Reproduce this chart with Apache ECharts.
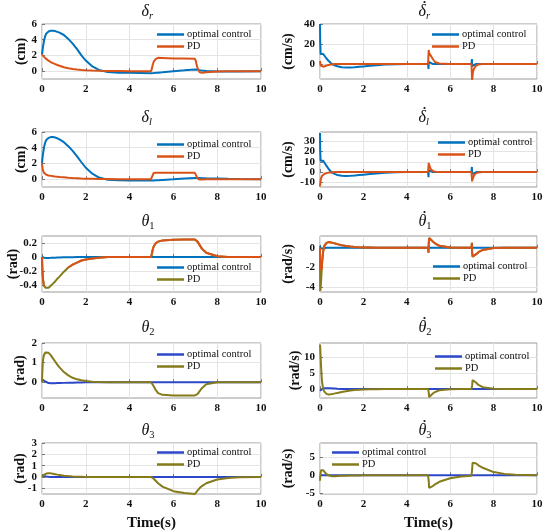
<!DOCTYPE html>
<html><head><meta charset="utf-8">
<script src="https://cdn.jsdelivr.net/npm/echarts@6/dist/echarts.min.js"></script>
<style>html,body{margin:0;padding:0;background:#fff}#c{width:550px;height:532px}</style>
</head><body><div id="c"></div>
<script>
// ---------- DATA ----------
const T = [
  0, 0.01, 0.03, 0.05, 0.08, 0.1, 0.15, 0.2, 0.3, 0.4,
  0.5, 0.6, 0.7, 0.8, 1.0, 1.2, 1.4, 1.6, 1.8, 2.0,
  2.3, 2.6, 3.0, 3.5, 4.0, 4.5, 4.98, 5.0, 5.01, 5.03,
  5.05, 5.1, 5.2, 5.3, 5.5, 6.0, 6.5, 6.98, 7.0, 7.01,
  7.03, 7.05, 7.1, 7.2, 7.3, 7.5, 8.0, 8.5, 9.0, 10
];
const X_TICKS = [0, 2, 4, 6, 8, 10];
const SERIES_NAMES = ['optimal control', 'PD'];

// delta_r (cm)
const dr_opt = [
  2.1, 2.35, 2.8, 3.2, 3.65, 4.0, 4.5, 4.8, 5.05, 5.15,
  5.15, 5.1, 5.0, 4.9, 4.6, 4.1, 3.5, 2.8, 2.0, 1.35,
  0.6, 0.15, -0.1, -0.2, -0.22, -0.25, -0.28, -0.28, -0.28, -0.27,
  -0.27, -0.25, -0.22, -0.2, -0.15, -0.02, 0.1, 0.22, 0.22, 0.22,
  0.21, 0.2, 0.18, 0.12, 0.08, 0.02, -0.05, -0.05, -0.03, 0
];
const dr_pd = [
  2.1, 2.07, 2.01, 1.95, 1.86, 1.8, 1.66, 1.54, 1.33, 1.16,
  1.02, 0.9, 0.78, 0.68, 0.5, 0.37, 0.27, 0.2, 0.15, 0.11,
  0.07, 0.04, 0.02, 0.01, 0, 0, 0, 0, 0.15, 0.45,
  0.75, 1.2, 1.55, 1.7, 1.68, 1.62, 1.6, 1.58, 1.58, 1.5,
  1.25, 0.95, 0.4, -0.15, -0.22, -0.15, -0.05, 0, 0, 0
];
// delta_l (cm)
const dl_opt = [
  2.0, 2.35, 2.85, 3.3, 3.8, 4.15, 4.7, 5.0, 5.25, 5.35,
  5.35, 5.3, 5.2, 5.05, 4.7, 4.2, 3.6, 2.9, 2.15, 1.45,
  0.7, 0.2, -0.08, -0.15, -0.17, -0.17, -0.18, -0.18, -0.18, -0.18,
  -0.18, -0.17, -0.15, -0.14, -0.1, -0.02, 0.07, 0.15, 0.15, 0.15,
  0.15, 0.15, 0.14, 0.13, 0.12, 0.1, 0.07, 0.04, 0.02, 0
];
const dl_pd = [
  2.0, 1.7, 1.3, 1.05, 0.85, 0.75, 0.62, 0.55, 0.47, 0.42,
  0.38, 0.34, 0.31, 0.28, 0.23, 0.18, 0.14, 0.11, 0.08, 0.06,
  0.04, 0.02, 0.01, 0, 0, 0, 0, 0, 0.1, 0.35,
  0.55, 0.78, 0.82, 0.82, 0.82, 0.81, 0.8, 0.8, 0.8, 0.75,
  0.6, 0.4, 0.1, -0.05, -0.05, -0.02, 0, 0, 0, 0
];
// d(delta_r)/dt (cm/s)
const ddr_opt = [
  40, 22, 10, 10.5, 11, 11, 10, 8.5, 5.5, 3,
  1, -0.5, -1.5, -2.3, -3.3, -3.6, -3.5, -3.2, -2.8, -2.4,
  -1.8, -1.2, -0.6, -0.2, 0, 0, 0, -5, 2, 1,
  0.6, 0.3, 0.1, 0, 0, 0, 0, 0, 5, -2,
  -1, -0.5, -0.2, 0, 0, 0, 0, 0, 0, 0
];
const ddr_pd = [
  3, 1, -1.5, -2.5, -3, -3, -2.7, -2.3, -1.5, -0.9,
  -0.5, -0.2, 0, 0.1, 0.1, 0.05, 0, 0, 0, 0,
  0, 0, 0, 0, 0, 0, 0, 0, 14, 11,
  9, 9.5, 5, 2, 0.5, 0, 0, 0, 0, -16,
  -12, -8, -4.5, -1.5, -0.5, 0, 0, 0, 0, 0
];
// d(delta_l)/dt (cm/s)
const ddl_opt = [
  38, 20, 11, 11.5, 12, 12, 11, 9.5, 6, 3,
  0.5, -1, -2, -2.8, -3.6, -3.8, -3.6, -3.3, -2.9, -2.5,
  -1.9, -1.3, -0.7, -0.2, 0, 0, 0, -5, 2, 1,
  0.5, 0.2, 0, 0, 0, 0, 0, 0, 5, -2,
  -1, -0.5, -0.2, 0, 0, 0, 0, 0, 0, 0
];
const ddl_pd = [
  -14, -12, -8, -6, -4.5, -3.5, -2.5, -1.8, -1, -0.5,
  -0.3, -0.1, 0, 0, 0, 0, 0, 0, 0, 0,
  0, 0, 0, 0, 0, 0, 0, 0, 9, 7,
  5.5, 3, 1, 0.3, 0, 0, 0, 0, 0, -9,
  -7, -5.5, -3, -1, -0.3, 0, 0, 0, 0, 0
];
// theta_1 (rad)
const th1_opt = [
  0, 0, -0.003, -0.005, -0.008, -0.01, -0.012, -0.013, -0.013, -0.012,
  -0.01, -0.009, -0.008, -0.007, -0.005, -0.003, -0.002, -0.001, 0, 0,
  0, 0, 0, 0, 0, 0, 0, 0, 0, 0,
  0, 0, 0, 0, 0, 0, 0, 0, 0, 0,
  0, 0, 0, 0, 0, 0, 0, 0, 0, 0
];
const th1_pd = [
  0, -0.1, -0.25, -0.33, -0.4, -0.42, -0.44, -0.45, -0.44, -0.41,
  -0.38, -0.35, -0.31, -0.28, -0.21, -0.15, -0.11, -0.08, -0.05, -0.035,
  -0.02, -0.01, 0, 0, 0, 0, 0, 0, 0.02, 0.06,
  0.1, 0.15, 0.2, 0.22, 0.235, 0.245, 0.25, 0.25, 0.25, 0.25,
  0.245, 0.24, 0.22, 0.17, 0.12, 0.06, 0.01, 0, 0, 0
];
const th1_pd_overlay = [
  0, -0.1, -0.25, -0.33, -0.4, -0.42, null, null, null, null,
  null, null, null, null, null, -0.15, -0.11, -0.08, -0.05, -0.035,
  -0.02, -0.01, 0, 0, 0, 0, 0, 0, 0.02, 0.06,
  0.1, 0.15, 0.2, 0.22, 0.235, 0.245, 0.25, 0.25, 0.25, 0.25,
  0.245, 0.24, 0.22, 0.17, 0.12, 0.06, 0.01, 0, 0, 0
];
// d(theta_1)/dt (rad/s)
const th1d_opt = [
  0.2, 0.1, -0.05, -0.1, -0.12, -0.1, -0.06, -0.03, 0, 0.01,
  0.01, 0.01, 0, 0, 0, 0, 0, 0, 0, 0,
  0, 0, 0, 0, 0, 0, 0, 0, 0, 0,
  0, 0, 0, 0, 0, 0, 0, 0, 0, 0,
  0, 0, 0, 0, 0, 0, 0, 0, 0, 0
];
const th1d_pd = [
  0, -4.4, -4.1, -3.4, -2.2, -1.4, -0.3, 0.2, 0.5, 0.58,
  0.55, 0.5, 0.43, 0.37, 0.26, 0.18, 0.12, 0.08, 0.05, 0.03,
  0.02, 0.01, 0, 0, 0, 0, 0, -0.5, 0.4, 1.0,
  1.1, 0.9, 0.65, 0.45, 0.2, 0.03, 0, 0, 0.5, -0.4,
  -0.9, -1.1, -0.95, -0.65, -0.45, -0.22, -0.03, 0, 0, 0
];
const th1d_pd_overlay = [
  0, -2.3, null, null, -2.2, -1.4, -0.3, 0.2, 0.5, 0.58,
  0.55, 0.5, 0.43, 0.37, 0.26, 0.18, 0.12, 0.08, 0.05, 0.03,
  0.02, 0.01, 0, 0, 0, 0, 0, -0.5, 0.4, 1.0,
  1.1, 0.9, 0.65, 0.45, 0.2, 0.03, 0, 0, 0.5, -0.4,
  -0.9, -1.1, -0.95, -0.65, -0.45, -0.22, -0.03, 0, 0, 0
];
// theta_2 (rad)
const th2_opt = [
  0.15, 0.15, 0.14, 0.12, 0.1, 0.08, 0.04, 0.0, -0.04, -0.05,
  -0.05, -0.05, -0.04, -0.04, -0.03, -0.02, -0.02, -0.01, -0.01, 0,
  0, 0, 0, 0, 0, 0, 0, 0, 0, 0,
  0, 0, 0, 0, 0, 0, 0, 0, 0, 0,
  0, 0, 0, 0, 0, 0, 0, 0, 0, 0
];
const th2_pd = [
  0, 0.4, 0.9, 1.15, 1.35, 1.43, 1.52, 1.55, 1.5, 1.38,
  1.22, 1.06, 0.9, 0.76, 0.52, 0.35, 0.23, 0.15, 0.1, 0.06,
  0.03, 0.01, 0, 0, 0, 0, 0, 0, -0.02, -0.05,
  -0.1, -0.2, -0.4, -0.55, -0.64, -0.67, -0.67, -0.67, -0.67, -0.67,
  -0.66, -0.65, -0.6, -0.45, -0.3, -0.1, 0, 0, 0, 0
];
// d(theta_2)/dt (rad/s)
const th2d_opt = [
  -0.5, -0.4, -0.2, 0, 0.1, 0.2, 0.3, 0.3, 0.3, 0.3,
  0.25, 0.2, 0.15, 0.1, 0.05, 0.02, 0, 0, 0, 0,
  0, 0, 0, 0, 0, 0, 0, 0, 0, 0,
  0, 0, 0, 0, 0, 0, 0, 0, 0, 0,
  0, 0, 0, 0, 0, 0, 0, 0, 0, 0
];
const th2d_pd = [
  14, 13, 10, 7, 3.5, 2, 0, -0.8, -1.5, -1.7,
  -1.65, -1.5, -1.35, -1.2, -0.9, -0.65, -0.45, -0.3, -0.2, -0.13,
  -0.07, -0.03, 0, 0, 0, 0, 0, 0.5, -1, -2.5,
  -2.8, -2.3, -1.4, -0.9, -0.4, -0.05, 0, 0, 0, 1,
  2.8, 3.2, 3.0, 2.0, 1.3, 0.6, 0.1, 0, 0, 0
];
// theta_3 (rad)
const th3_opt = [
  0.1, 0.1, 0.1, 0.09, 0.08, 0.07, 0.05, 0.04, 0.02, 0.01,
  0, 0, 0, 0, 0, 0, 0, 0, 0, 0,
  0, 0, 0, 0, 0, 0, 0, 0, 0, 0,
  0, 0, 0, 0, 0, 0, 0, 0, 0, 0,
  0, 0, 0, 0, 0, 0, 0, 0, 0, 0
];
const th3_pd = [
  0, 0.02, 0.07, 0.12, 0.18, 0.22, 0.27, 0.3, 0.33, 0.32,
  0.29, 0.25, 0.21, 0.18, 0.12, 0.08, 0.05, 0.03, 0.02, 0.01,
  0, 0, 0, 0, 0, 0, 0, 0, 0, -0.01,
  -0.05, -0.15, -0.35, -0.55, -0.85, -1.25, -1.42, -1.5, -1.5, -1.48,
  -1.42, -1.35, -1.2, -0.98, -0.8, -0.55, -0.22, -0.08, -0.02, 0
];
// d(theta_3)/dt (rad/s)
const th3d_opt = [
  0, 0, 0, 0, 0, 0, 0, 0, 0, 0,
  0, 0, 0, 0, 0, 0, 0, 0, 0, 0,
  0, 0, 0, 0, 0, 0, 0, 0, 0, 0,
  0, 0, 0, 0, 0, 0, 0, 0, 0, 0,
  0, 0, 0, 0, 0, 0, 0, 0, 0, 0
];
const th3d_pd = [
  -1.5, -0.5, 0.8, 1.4, 1.8, 1.8, 1.4, 0.9, 0.3, 0,
  -0.2, -0.25, -0.25, -0.22, -0.15, -0.1, -0.06, -0.04, -0.02, -0.01,
  0, 0, 0, 0, 0, 0, 0, 0, -1.5, -3.5,
  -3.9, -3.6, -3.0, -2.5, -1.8, -0.8, -0.35, -0.15, -0.15, 1.5,
  3.5, 4.0, 3.8, 3.3, 2.8, 2.1, 0.9, 0.4, 0.15, 0.02
];

// y tick labels per panel
const YT_DR = [0, 2, 4, 6];
const YT_DL = [0, 2, 4, 6];
const YT_DDR = [0, 20, 40];
const YT_DDL = [-10, 0, 10, 20, 30];
const YT_TH1 = [-0.4, -0.2, 0, 0.2];
const YT_TH1D = [-4, -2, 0];
const YT_TH2 = [0, 1, 2];
const YT_TH2D = [0, 5, 10];
const YT_TH3 = [-1, 0, 1, 2, 3];
const YT_TH3D = [-5, 0, 5];

// ---------- STYLE / LAYOUT ----------
const FONT = "'Liberation Serif','DejaVu Serif',serif";
const BLUE = '#0072BD', ORANGE = '#D95319', OLIVE = '#857B1B', DBLUE = '#2C48C8';
const LX = 42, LW = 219, RX = 320, RW = 217;
const ROWS = [[24, 55], [132, 55], [236, 56], [343, 55], [443, 53]];
const TITLE_Y = [14, 120, 224, 330, 433];

const panels = [
  {c:0, r:0, sym:'δ', dot:false, sub:'r', unit:'(cm)', gap:14, min:-1, max:6, ticks:YT_DR,
   s:[[dr_opt, BLUE, 0], [dr_pd, ORANGE, 1]], lg:[157, 29]},
  {c:1, r:0, sym:'δ', dot:true, sub:'r', unit:'(cm/s)', gap:25, min:-15, max:40, ticks:YT_DDR,
   s:[[ddr_opt, BLUE, 0], [ddr_pd, ORANGE, 1]], lg:[432, 29]},
  {c:0, r:1, sym:'δ', dot:false, sub:'l', unit:'(cm)', gap:14, min:-1, max:6, ticks:YT_DL,
   s:[[dl_opt, BLUE, 0], [dl_pd, ORANGE, 1]], lg:[157, 139]},
  {c:1, r:1, sym:'δ', dot:true, sub:'l', unit:'(cm/s)', gap:25, min:-14.5, max:39, ticks:YT_DDL,
   s:[[ddl_opt, BLUE, 0], [ddl_pd, ORANGE, 1]], lg:[438, 137]},
  {c:0, r:2, sym:'θ', dot:false, sub:'1', unit:'(rad)', gap:22, min:-0.5, max:0.3, ticks:YT_TH1,
   s:[[th1_opt, BLUE, 0], [th1_pd, OLIVE, 1], [th1_pd_overlay, ORANGE, -1]], lg:[157, 262]},
  {c:1, r:2, sym:'θ', dot:true, sub:'1', unit:'(rad/s)', gap:25, min:-4.5, max:1.2, ticks:YT_TH1D,
   s:[[th1d_opt, BLUE, 0], [th1d_pd, OLIVE, 1], [th1d_pd_overlay, ORANGE, -1]], lg:[433, 261]},
  {c:0, r:3, sym:'θ', dot:false, sub:'2', unit:'(rad)', gap:15, min:-0.8, max:2, ticks:YT_TH2,
   s:[[th2_opt, DBLUE, 0], [th2_pd, OLIVE, 1]], lg:[157, 349]},
  {c:1, r:3, sym:'θ', dot:true, sub:'2', unit:'(rad/s)', gap:18, min:-2.8, max:14.5, ticks:YT_TH2D,
   s:[[th2d_opt, DBLUE, 0], [th2d_pd, OLIVE, 1]], lg:[435, 351]},
  {c:0, r:4, sym:'θ', dot:false, sub:'3', unit:'(rad)', gap:15, min:-1.5, max:3, ticks:YT_TH3,
   s:[[th3_opt, DBLUE, 0], [th3_pd, OLIVE, 1]], lg:[157, 447]},
  {c:1, r:4, sym:'θ', dot:true, sub:'3', unit:'(rad/s)', gap:25, min:-5.2, max:9, ticks:YT_TH3D,
   s:[[th3d_opt, DBLUE, 0], [th3d_pd, OLIVE, 1]], lg:[332, 447]}
];

const labelStyle = {fontFamily: FONT, fontWeight: 'bold', fontSize: 11, color: '#111',
  hideOverlap: false, showMinLabel: true, showMaxLabel: true};
const grids = [], xAxes = [], yAxes = [], series = [], legends = [], graphics = [];

panels.forEach((p, i) => {
  const left = p.c === 0 ? LX : RX, width = p.c === 0 ? LW : RW;
  const [top, height] = ROWS[p.r];
  grids.push({left, top, width, height, show: true, borderColor: '#9a9a9a', borderWidth: 1, backgroundColor: '#fff'});
  xAxes.push({
    type: 'value', gridIndex: i, min: 0, max: 10, interval: 2,
    axisLine: {show: false},
    axisTick: {show: true, inside: true, length: 3, lineStyle: {color: '#777'}},
    axisLabel: {...labelStyle, margin: 5, customValues: X_TICKS},
    splitLine: {show: true, lineStyle: {color: '#e4e4e4', width: 1}},
    name: p.r === 4 ? 'Time(s)' : '',
    nameLocation: 'middle', nameGap: 22,
    nameTextStyle: {fontFamily: FONT, fontWeight: 'bold', fontSize: 15, color: '#111'}
  });
  // labels split over two coincident axes so that closely spaced labels are all kept
  const evenTicks = p.ticks.filter((v, k) => k % 2 === 0);
  const oddTicks = p.ticks.filter((v, k) => k % 2 === 1);
  yAxes.push({
    type: 'value', gridIndex: i, min: p.min, max: p.max, position: 'left',
    axisLine: {show: false},
    axisTick: {show: true, inside: true, length: 3, customValues: p.ticks, lineStyle: {color: '#777'}},
    axisLabel: {...labelStyle, margin: 5, customValues: evenTicks, formatter: v => String(v)},
    splitLine: {show: true, customValues: p.ticks, lineStyle: {color: '#e4e4e4', width: 1}},
    name: p.unit, nameLocation: 'middle', nameRotate: 90, nameGap: p.gap, nameMoveOverlap: false,
    nameTextStyle: {fontFamily: FONT, fontWeight: 'bold', fontSize: 14, color: '#111'}
  });
  yAxes.push({
    type: 'value', gridIndex: i, min: p.min, max: p.max, position: 'left', offset: 0,
    axisLine: {show: false}, axisTick: {show: false}, splitLine: {show: false},
    axisLabel: {...labelStyle, margin: 5, show: oddTicks.length > 0,
      customValues: oddTicks.length ? oddTicks : [p.min], formatter: v => String(v)}
  });
  const names = [];
  p.s.forEach(([vals, color, li], k) => {
    const nm = li >= 0 ? SERIES_NAMES[li] + '#' + i : 'overlay#' + i;
    if (li >= 0) names.push(nm);
    series.push({
      type: 'line', name: nm, xAxisIndex: i, yAxisIndex: 2 * i,
      data: T.map((t, j) => [t, vals[j] === null ? '-' : vals[j]]),
      showSymbol: false, symbol: 'none', connectNulls: false,
      lineStyle: {color, width: 2}, itemStyle: {color},
      z: 2 + k, animation: false, clip: true
    });
  });
  legends.push({
    data: names, orient: 'vertical', left: p.lg[0], top: p.lg[1],
    icon: 'rect', itemWidth: 27, itemHeight: 2.5, itemGap: 1, padding: 0,
    formatter: n => n.split('#')[0],
    textStyle: {fontFamily: FONT, fontSize: 10.5, color: '#111', padding: [0, 0, 0, -2]},
    selectedMode: false
  });
  const cx = left + width / 2;
  const tx = cx - 10, ty = TITLE_Y[p.r] - 10;
  graphics.push({
    type: 'text', left: tx, top: ty,
    style: {
      text: '{m|' + p.sym + '}{s|' + p.sub + '}',
      rich: {
        m: {fontFamily: FONT, fontStyle: 'italic', fontSize: 16, lineHeight: 20, verticalAlign: 'middle', fill: '#111'},
        s: {fontFamily: FONT, fontStyle: /[a-z]/.test(p.sub) ? 'italic' : 'normal', fontSize: 10.5, lineHeight: 11, verticalAlign: 'bottom', fill: '#111'}
      }
    }
  });
  if (p.dot) {
    graphics.push({type: 'circle', shape: {cx: tx + 6, cy: ty - 2, r: 1.1}, style: {fill: '#111'}});
  }
});

const chart = echarts.init(document.getElementById('c'), null, {renderer: 'canvas'});
chart.setOption({
  animation: false,
  backgroundColor: '#fff',
  grid: grids, xAxis: xAxes, yAxis: yAxes, series, legend: legends, graphic: graphics
});
</script></body></html>
